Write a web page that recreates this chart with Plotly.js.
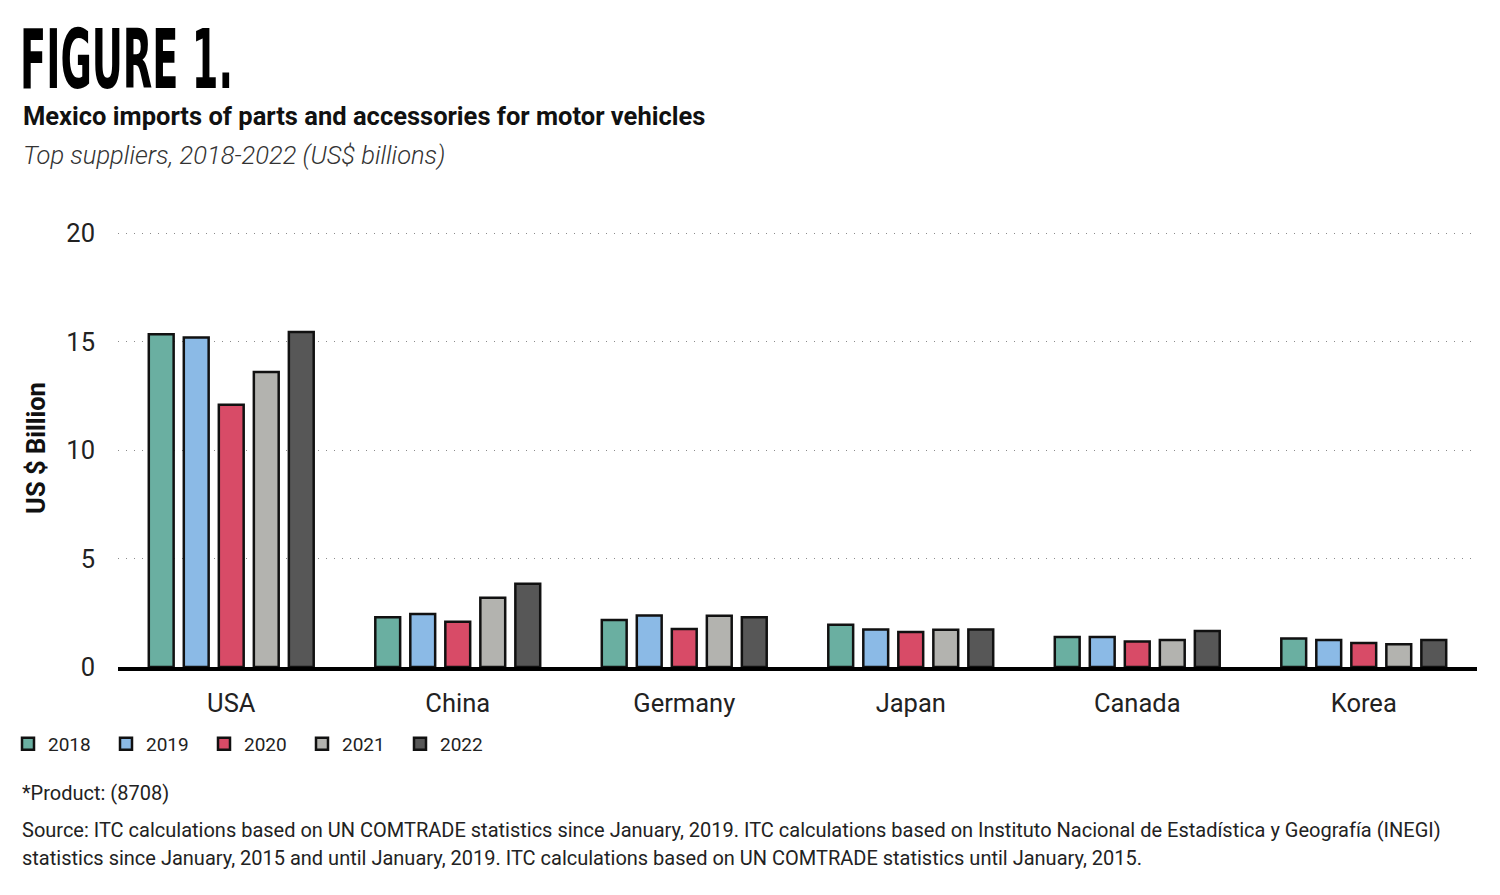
<!DOCTYPE html>
<html>
<head>
<meta charset="utf-8">
<script src="https://cdn.plot.ly/plotly-3.0.1.min.js"></script>
<style>html,body{margin:0;padding:0;background:#fff;}#chart{width:1500px;height:895px;}</style>
</head>
<body>
<div id="chart"></div>
<script>
const countries = ["USA", "China", "Germany", "Japan", "Canada", "Korea"];
const years = ["2018", "2019", "2020", "2021", "2022"];
const v2018 = [15.35, 2.29, 2.17, 1.95, 1.38, 1.32];
const v2019 = [15.2, 2.44, 2.38, 1.73, 1.38, 1.24];
const v2020 = [12.1, 2.09, 1.75, 1.61, 1.18, 1.11];
const v2021 = [13.6, 3.19, 2.36, 1.72, 1.24, 1.05];
const v2022 = [15.45, 3.84, 2.29, 1.73, 1.66, 1.24];
const seriesValues = [v2018, v2019, v2020, v2021, v2022];
const colors = ["#6aafa1", "#8bbae6", "#d84b67", "#b3b3af", "#575757"];
const yTicks = [0, 5, 10, 15, 20];

const traces = years.map((y, i) => ({
  type: "bar",
  name: y,
  x: countries,
  y: seriesValues[i],
  marker: {color: colors[i], line: {color: "#111", width: 2.5}},
  hoverinfo: "x+y+name"
}));

const L = 118, B = 667, W = 1359, H = 438;
const px = x => (x - L) / W;
const py = y => (B - y) / H;

const layout = {
  width: 1500, height: 895,
  margin: {l: L, r: 1500 - L - W, t: B - H, b: 895 - B, pad: 0, autoexpand: false},
  paper_bgcolor: "#fff", plot_bgcolor: "#fff",
  font: {family: "Roboto, sans-serif", color: "#222"},
  barmode: "group",
  bargap: 0.227,
  bargroupgap: 0.29,
  showlegend: true,
  legend: {
    orientation: "h", x: px(8), xanchor: "left", y: py(744), yanchor: "middle",
    font: {size: 19, color: "#222"}, traceorder: "normal",
    entrywidth: 53, entrywidthmode: "pixels"
  },
  xaxis: {
    automargin: false,
    showline: true, linecolor: "#000", linewidth: 4, ticks: "",
    ticklabelstandoff: 10,
    tickfont: {size: 25.5, color: "#222"}, showgrid: false, fixedrange: true
  },
  yaxis: {
    automargin: false,
    range: [0, 20.2], tickvals: yTicks, ticktext: yTicks.map(String),
    showgrid: true, gridcolor: "#8a8a8a", griddash: "1px,7px", gridwidth: 1,
    zeroline: false, showline: false, ticks: "",
    ticklabelstandoff: 22,
    tickfont: {size: 25.5, color: "#222"},
    title: {text: "<b>US $ Billion</b>", font: {size: 25.5, color: "#111"}, standoff: 13}
  },
  annotations: [
    {text: "<b>FIGURE 1.</b>", x: px(18), y: py(60), xref: "paper", yref: "paper",
     xanchor: "left", yanchor: "middle", showarrow: false,
     font: {family: "DejaVu Sans Condensed, DejaVu Sans", size: 82, color: "#000"}},
    {text: "<b>Mexico imports of parts and accessories for motor vehicles</b>", x: px(21), y: py(116.5),
     xref: "paper", yref: "paper", xanchor: "left", yanchor: "middle", showarrow: false,
     font: {size: 25.5, color: "#111"}},
    {text: "Top suppliers, 2018-2022 (US$ billions)", x: px(21), y: py(155),
     xref: "paper", yref: "paper", xanchor: "left", yanchor: "middle", showarrow: false,
     font: {size: 25.5, color: "#333", style: "italic", weight: 300}},
    {text: "*Product: (8708)", x: px(20), y: py(793),
     xref: "paper", yref: "paper", xanchor: "left", yanchor: "middle", showarrow: false,
     font: {size: 20, color: "#222"}},
    {text: "Source: ITC calculations based on UN COMTRADE statistics since January, 2019. ITC calculations based on Instituto Nacional de Estadística y Geografía (INEGI)", x: px(20), y: py(830),
     xref: "paper", yref: "paper", xanchor: "left", yanchor: "middle", showarrow: false,
     font: {size: 20, color: "#222"}},
    {text: "statistics since January, 2015 and until January, 2019. ITC calculations based on UN COMTRADE statistics until January, 2015.", x: px(20), y: py(858),
     xref: "paper", yref: "paper", xanchor: "left", yanchor: "middle", showarrow: false,
     font: {size: 20, color: "#222"}}
  ]
};

Plotly.newPlot("chart", traces, layout, {displayModeBar: false, staticPlot: true}).then(() => {
  const anns = document.querySelectorAll("g.annotation");
  anns.forEach(a => {
    const t = a.querySelector("text");
    if (t && t.textContent.trim() === "FIGURE 1.") {
      const bb = t.getBBox();
      const s = 213 / bb.width;
      t.setAttribute("transform", `translate(${bb.x},0) scale(${s},1) translate(${-bb.x},0)`);
    }
  });
});
</script>
</body>
</html>
